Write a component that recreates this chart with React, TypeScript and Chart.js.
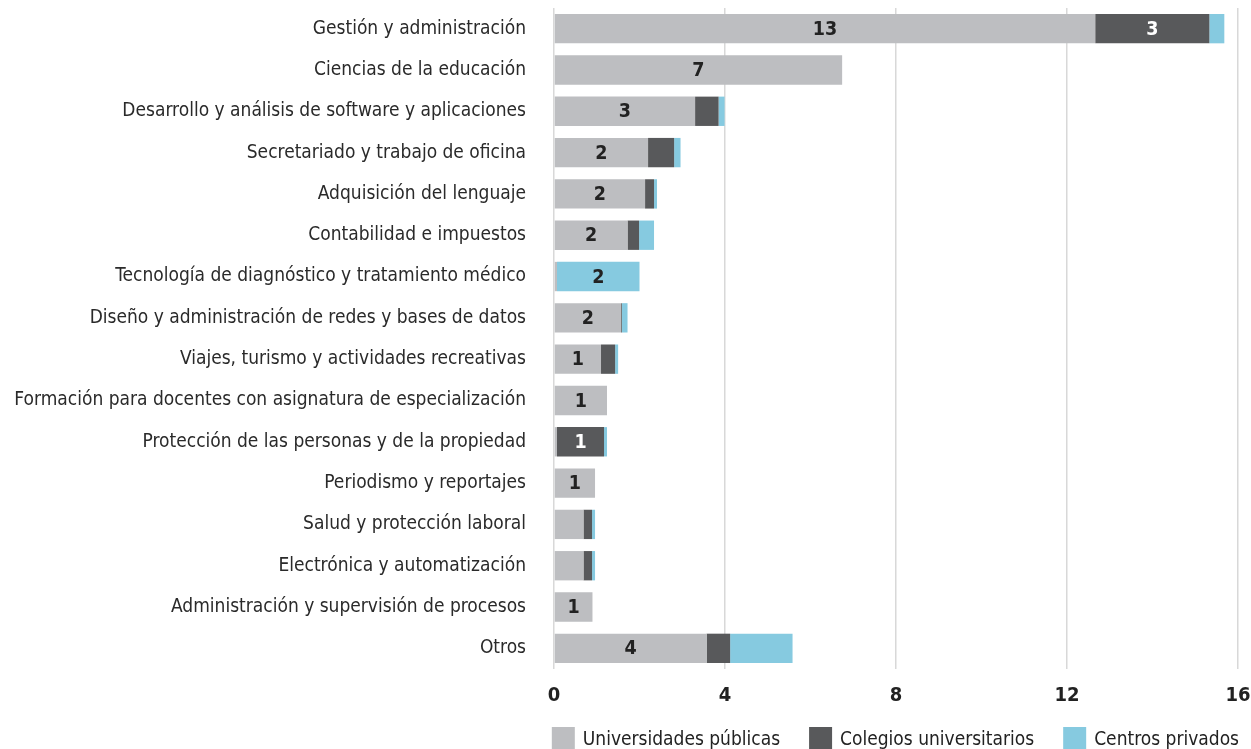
import { useEffect, useRef } from "react";
import { Chart, registerables } from "chart.js";

Chart.register(...registerables);

const FONT = "'Liberation Sans Narrow', 'DejaVu Sans Condensed', 'Noto Sans', sans-serif";

const categories = [
  "Gestión y administración",
  "Ciencias de la educación",
  "Desarrollo y análisis de software y aplicaciones",
  "Secretariado y trabajo de oficina",
  "Adquisición del lenguaje",
  "Contabilidad e impuestos",
  "Tecnología de diagnóstico y tratamiento médico",
  "Diseño y administración de redes y bases de datos",
  "Viajes, turismo y actividades recreativas",
  "Formación para docentes con asignatura de especialización",
  "Protección de las personas y de la propiedad",
  "Periodismo y reportajes",
  "Salud y protección laboral",
  "Electrónica y automatización",
  "Administración y supervisión de procesos",
  "Otros",
];

const publicas = [12.66, 6.74, 3.3, 2.2, 2.13, 1.72, 0.07, 1.57, 1.1, 1.24, 0.07, 0.96, 0.69, 0.69, 0.9, 3.57];
const colegios = [2.67, 0, 0.55, 0.61, 0.21, 0.27, 0, 0.02, 0.33, 0, 1.1, 0, 0.2, 0.2, 0, 0.55];
const privados = [0.35, 0, 0.14, 0.15, 0.07, 0.35, 1.93, 0.13, 0.07, 0, 0.07, 0, 0.07, 0.07, 0, 1.46];

// which segments carry a rounded value label
const rotuloPublicas = [1, 1, 1, 1, 1, 1, 0, 1, 1, 1, 0, 1, 0, 0, 1, 1];
const rotuloColegios = [1, 0, 0, 0, 0, 0, 0, 0, 0, 0, 1, 0, 0, 0, 0, 0];
const rotuloPrivados = [0, 0, 0, 0, 0, 0, 1, 0, 0, 0, 0, 0, 0, 0, 0, 0];

const xTicks = [0, 4, 8, 12, 16];

const seriesNames = ["Universidades públicas", "Colegios universitarios", "Centros privados"];
const seriesColors = ["#bdbec1", "#58595b", "#86cae0"];
const labelColors = ["#222222", "#ffffff", "#222222"];
const labelFlags = [rotuloPublicas, rotuloColegios, rotuloPrivados];

// rounded value written in the middle of each flagged segment
const segmentLabels = {
  id: "segmentLabels",
  afterDatasetsDraw(chart: any) {
    const ctx = chart.ctx;
    ctx.save();
    ctx.font = `bold 19.5px ${FONT}`;
    ctx.textAlign = "center";
    ctx.textBaseline = "middle";
    chart.data.datasets.forEach((ds: any, di: number) => {
      const meta = chart.getDatasetMeta(di);
      meta.data.forEach((el: any, i: number) => {
        if (!labelFlags[di][i]) return;
        const v = ds.data[i] as number;
        const c = el.getCenterPoint();
        ctx.fillStyle = labelColors[di];
        ctx.fillText(String(Math.round(v)), c.x, c.y + 1);
      });
    });
    ctx.restore();
  },
};

// legend row along the bottom edge, right-aligned
const bottomLegend = {
  id: "bottomLegend",
  afterDraw(chart: any) {
    const ctx = chart.ctx;
    ctx.save();
    ctx.font = `19px ${FONT}`;
    ctx.textBaseline = "alphabetic";
    ctx.textAlign = "left";
    const box = 23;
    const boxTop = chart.height - 22;
    const baseline = chart.height - 4;
    let x = chart.width - 12;
    for (let i = seriesNames.length - 1; i >= 0; i--) {
      const w = ctx.measureText(seriesNames[i]).width;
      const tx = x - w;
      ctx.fillStyle = "#222222";
      ctx.fillText(seriesNames[i], tx, baseline);
      const bx = tx - 8 - box;
      ctx.fillStyle = seriesColors[i];
      ctx.fillRect(bx, boxTop, box, box);
      x = bx - 29;
    }
    ctx.restore();
  },
};

export default function App() {
  const ref = useRef<HTMLCanvasElement>(null);

  useEffect(() => {
    document.body.style.margin = "0";
    const chart = new Chart(ref.current!, {
      type: "bar",
      data: {
        labels: categories,
        datasets: [publicas, colegios, privados].map((d, i) => ({
          label: seriesNames[i],
          data: d,
          backgroundColor: seriesColors[i],
          borderWidth: 0,
          categoryPercentage: 1,
          barPercentage: 0.71,
        })),
      },
      options: {
        indexAxis: "y",
        animation: false,
        responsive: true,
        maintainAspectRatio: false,
        layout: { padding: { top: 8, right: 13, left: 0, bottom: 0 } },
        scales: {
          x: {
            stacked: true,
            min: 0,
            max: 16,
            afterBuildTicks: (s: any) => {
              s.ticks = xTicks.map((v) => ({ value: v }));
            },
            afterFit: (s: any) => {
              s.height = 80;
              s.paddingLeft = 0;
              s.paddingRight = 0;
            },
            ticks: {
              font: { family: FONT, size: 20, weight: "bold" },
              color: "#222222",
              padding: 15,
            },
            grid: { color: "#d8d8d8", lineWidth: 1.5, drawTicks: false },
            border: { display: false },
          },
          y: {
            stacked: true,
            grid: { display: false, drawTicks: false },
            border: { display: false },
            ticks: {
              font: { family: FONT, size: 19 },
              color: "#2a2a2a",
              padding: 28,
              autoSkip: false,
            },
            afterFit: (s: any) => {
              s.width = 554;
              s.paddingTop = 0;
              s.paddingBottom = 0;
            },
          },
        },
        plugins: {
          legend: { display: false },
          tooltip: { enabled: false },
        },
      },
      plugins: [segmentLabels, bottomLegend],
    });
    return () => chart.destroy();
  }, []);

  return (
    <div style={{ width: 1251, height: 749, position: "relative" }}>
      <canvas ref={ref} />
    </div>
  );
}
